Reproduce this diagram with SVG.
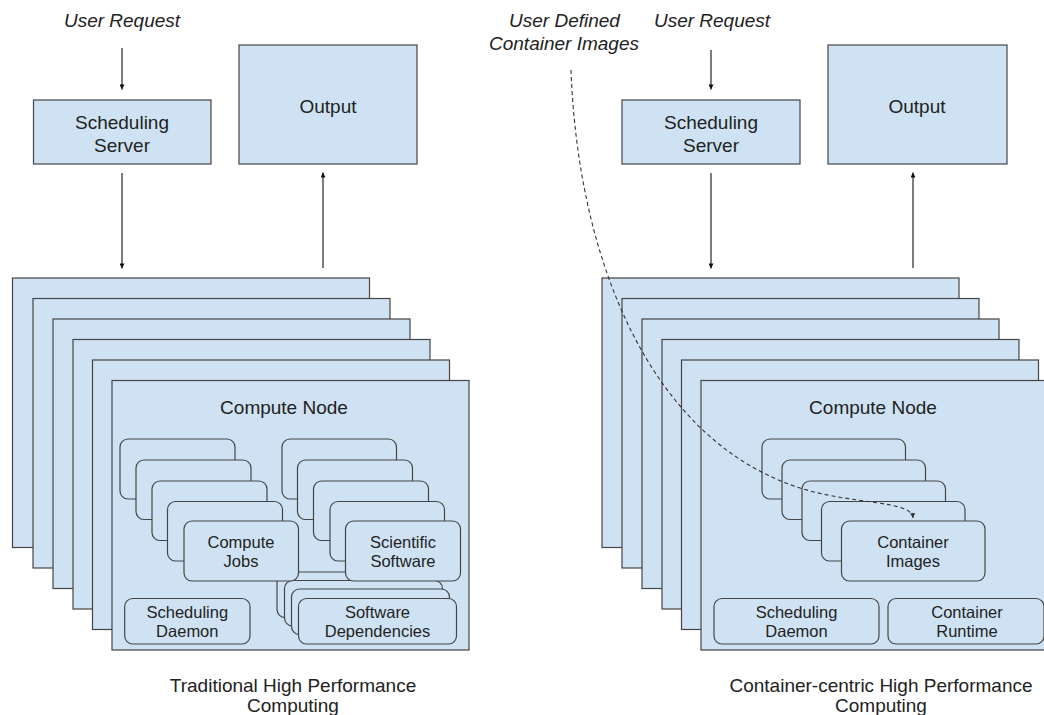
<svg xmlns="http://www.w3.org/2000/svg" width="1044" height="715" viewBox="0 0 1044 715">
  <style>
    .box { fill: #cfe2f3; stroke: #454545; stroke-width: 1.2; }
    .t { font-family: "Liberation Sans", Arial, sans-serif; fill: #222; text-anchor: middle; }
    .big { font-size: 19px; }
    .small { font-size: 16.5px; }
    .it { font-style: italic; font-size: 19px; }
    .arrow { stroke: #111; stroke-width: 1.1; fill: none; marker-end: url(#ah); }
    .dash { stroke: #333; stroke-width: 1.1; fill: none; stroke-dasharray: 4 3; marker-end: url(#ahd); }
  </style>
  <defs>
    <marker id="ah" viewBox="0 0 10 10" refX="10" refY="5" markerWidth="6" markerHeight="5" markerUnits="userSpaceOnUse" orient="auto">
      <path d="M0,0 L10,5 L0,10 z" fill="#111"/>
    </marker>
    <marker id="ahd" viewBox="0 0 10 10" refX="10" refY="5" markerWidth="6" markerHeight="5" markerUnits="userSpaceOnUse" orient="auto">
      <path d="M0,0 L10,5 L0,10 z" fill="#333"/>
    </marker>
  </defs>
  <rect width="1044" height="715" fill="#ffffff"/>

  <!-- ===== LEFT: Traditional HPC ===== -->
  <g id="left-user-request">
    <text class="t it" x="122" y="27">User Request</text>
  </g>
  <g id="left-scheduling-server">
    <rect class="box" x="33.5" y="100" width="177.5" height="64"/>
    <text class="t big" x="122" y="129">Scheduling</text>
    <text class="t big" x="122" y="151.5">Server</text>
  </g>
  <g id="left-output">
    <rect class="box" x="239" y="45" width="178" height="119"/>
    <text class="t big" x="328" y="112.5">Output</text>
  </g>
  <g id="left-compute-nodes">
    <rect class="box" x="12.5" y="278" width="357" height="269.5"/>
    <rect class="box" x="33" y="298.5" width="357" height="269.5"/>
    <rect class="box" x="53" y="319" width="357" height="269.5"/>
    <rect class="box" x="73" y="339.5" width="357" height="269.5"/>
    <rect class="box" x="92.5" y="360" width="357" height="269.5"/>
    <rect class="box" x="112" y="380.5" width="357" height="269.5"/>
    <text class="t big" x="284" y="413.5">Compute Node</text>
  </g>
  <g id="left-software-dependencies">
    <rect class="box" x="277" y="572" width="158" height="45.5" rx="8"/>
    <rect class="box" x="284.5" y="580.5" width="158" height="45.5" rx="8"/>
    <rect class="box" x="291.5" y="589" width="158" height="45.5" rx="8"/>
    <rect class="box" x="298.5" y="598.5" width="158" height="45.5" rx="8"/>
    <text class="t small" x="377.5" y="618.3">Software</text>
    <text class="t small" x="377.5" y="637.3">Dependencies</text>
  </g>
  <g id="left-compute-jobs">
    <rect class="box" x="120" y="439" width="115" height="60" rx="8"/>
    <rect class="box" x="136" y="460" width="115" height="59.5" rx="8"/>
    <rect class="box" x="152" y="481" width="115" height="59.5" rx="8"/>
    <rect class="box" x="167.5" y="501.5" width="115" height="59.5" rx="8"/>
    <rect class="box" x="184" y="521" width="114.5" height="60" rx="8"/>
    <text class="t small" x="241" y="547.5">Compute</text>
    <text class="t small" x="241" y="566.5">Jobs</text>
  </g>
  <g id="left-scientific-software">
    <rect class="box" x="282" y="439" width="114.5" height="60" rx="8"/>
    <rect class="box" x="297.5" y="460" width="115" height="59.5" rx="8"/>
    <rect class="box" x="313.5" y="481" width="115" height="59.5" rx="8"/>
    <rect class="box" x="330" y="501.5" width="114.5" height="59.5" rx="8"/>
    <rect class="box" x="345.5" y="521" width="115" height="60" rx="8"/>
    <text class="t small" x="403" y="547.5">Scientific</text>
    <text class="t small" x="403" y="566.5">Software</text>
  </g>
  <g id="left-scheduling-daemon">
    <rect class="box" x="124.7" y="598.5" width="125.3" height="45.5" rx="8"/>
    <text class="t small" x="187.3" y="618.3">Scheduling</text>
    <text class="t small" x="187.3" y="637.3">Daemon</text>
  </g>
  <g id="left-caption">
    <text class="t big" x="293" y="691.5">Traditional High Performance</text>
    <text class="t big" x="293" y="712">Computing</text>
  </g>

  <!-- ===== RIGHT: Container-centric HPC ===== -->
  <g id="right-user-request">
    <text class="t it" x="712" y="27">User Request</text>
  </g>
  <g id="right-user-images">
    <text class="t it" x="564.5" y="27">User Defined</text>
    <text class="t it" x="564" y="50">Container Images</text>
  </g>
  <g id="right-scheduling-server">
    <rect class="box" x="622" y="100" width="178" height="64"/>
    <text class="t big" x="711" y="129">Scheduling</text>
    <text class="t big" x="711" y="151.5">Server</text>
  </g>
  <g id="right-output">
    <rect class="box" x="828" y="45" width="179" height="119"/>
    <text class="t big" x="917" y="112.5">Output</text>
  </g>
  <g id="right-compute-nodes">
    <rect class="box" x="602" y="278" width="357" height="269.5"/>
    <rect class="box" x="622" y="298.5" width="357" height="269.5"/>
    <rect class="box" x="642" y="319" width="357" height="269.5"/>
    <rect class="box" x="662" y="339.5" width="357" height="269.5"/>
    <rect class="box" x="681.5" y="360" width="357" height="269.5"/>
    <rect class="box" x="701" y="380.5" width="357" height="269.5"/>
    <text class="t big" x="873" y="413.5">Compute Node</text>
  </g>
  <g id="right-container-images">
    <rect class="box" x="762" y="439" width="143.5" height="60" rx="8"/>
    <rect class="box" x="782" y="460" width="143.5" height="59.5" rx="8"/>
    <rect class="box" x="802" y="481" width="143.5" height="59.5" rx="8"/>
    <rect class="box" x="821.5" y="501.5" width="143.5" height="59.5" rx="8"/>
    <rect class="box" x="841.5" y="521" width="143.5" height="60" rx="8"/>
    <text class="t small" x="913" y="547.5">Container</text>
    <text class="t small" x="913" y="566.5">Images</text>
  </g>
  <g id="right-scheduling-daemon">
    <rect class="box" x="714" y="598.5" width="165" height="45.5" rx="8"/>
    <text class="t small" x="796.5" y="618.3">Scheduling</text>
    <text class="t small" x="796.5" y="637.3">Daemon</text>
  </g>
  <g id="right-container-runtime">
    <rect class="box" x="888" y="598.5" width="156" height="45.5" rx="8"/>
    <text class="t small" x="967" y="618.3">Container</text>
    <text class="t small" x="967" y="637.3">Runtime</text>
  </g>
  <g id="right-caption">
    <text class="t big" x="881" y="691.5">Container-centric High Performance</text>
    <text class="t big" x="881" y="712">Computing</text>
  </g>

  <!-- ===== Connectors ===== -->
  <g id="connectors">
    <line class="arrow" x1="122" y1="48" x2="122" y2="89.5"/>
    <line class="arrow" x1="122" y1="173" x2="122" y2="268.5"/>
    <line class="arrow" x1="323" y1="268" x2="323" y2="172.5"/>
    <line class="arrow" x1="711" y1="50" x2="711" y2="89.5"/>
    <line class="arrow" x1="711" y1="173" x2="711" y2="268.5"/>
    <line class="arrow" x1="913" y1="268" x2="913" y2="172.5"/>
    <path class="dash" d="M571,70 C578,260 650,440 800,488 C852.5,504.8 912,500 913,518"/>
  </g>
</svg>
